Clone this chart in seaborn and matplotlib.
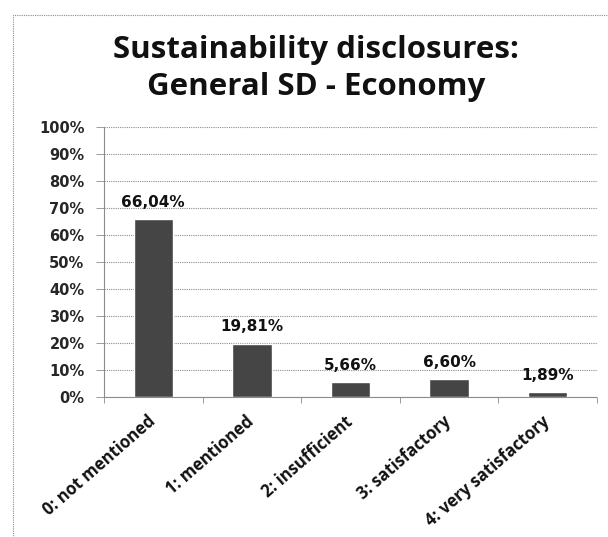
import matplotlib
matplotlib.use("Agg")
import matplotlib.pyplot as plt
from matplotlib.patches import Rectangle
import seaborn as sns
import pandas as pd

# Rating categories and share of companies in each (percent)
categories = ["0: not mentioned", "1: mentioned", "2: insufficient",
              "3: satisfactory", "4: very satisfactory"]
shares = [66.04, 19.81, 5.66, 6.60, 1.89]
value_labels = ["66,04%", "19,81%", "5,66%", "6,60%", "1,89%"]
y_ticks = [0, 10, 20, 30, 40, 50, 60, 70, 80, 90, 100]
y_tick_labels = [f"{t}%" for t in y_ticks]

title_lines = ["Sustainability disclosures:", "General SD - Economy"]

df = pd.DataFrame({"category": categories, "share": shares})

sns.set_theme(style="white")
plt.rcParams["font.family"] = ["DejaVu Sans"]

W, H = 608, 537
fig = plt.figure(figsize=(W / 100, H / 100), dpi=100)
fig.patch.set_facecolor("white")

ax = fig.add_axes([104 / W, 1 - 397 / H, (597 - 104) / W, (397 - 127) / H])

sns.barplot(data=df, x="category", y="share", color="#454545",
            saturation=1, width=0.40, ax=ax, zorder=3)

ax.set_ylim(0, 100)
ax.set_xlim(-0.5, len(categories) - 0.5)
ax.set_yticks(y_ticks)
ax.set_yticklabels(y_tick_labels, fontsize=10.5, fontweight="bold",
                   family="DejaVu Sans")
ax.set_xlabel("")
ax.set_ylabel("")

# dotted horizontal gridlines
grid_color = "#8c8c8c"
ax.yaxis.grid(True, color=grid_color, linestyle=(0, (1, 1)), linewidth=0.8, zorder=0)
ax.xaxis.grid(False)

for side in ["top", "right"]:
    ax.spines[side].set_visible(False)
for side in ["left", "bottom"]:
    ax.spines[side].set_color(grid_color)
    ax.spines[side].set_linestyle((0, (1, 1)))
    ax.spines[side].set_linewidth(0.8)

ax.tick_params(axis="y", direction="out", length=6, width=0.6,
               color=grid_color, pad=8, left=True)

# tick marks between categories on the x axis
ax.set_xticks(range(len(categories)))
ax.set_xticks([i - 0.5 for i in range(len(categories) + 1)], minor=True)
ax.tick_params(axis="x", which="major", length=0, pad=16)
ax.tick_params(axis="x", which="minor", direction="out", length=4,
               width=0.6, color=grid_color, bottom=True)
ax.set_xticklabels(categories, rotation=41, ha="right", va="center",
                   rotation_mode="anchor", fontsize=12, fontweight="bold",
                   family="Open Sans", color="#111111")

# value labels above the bars
for i, (v, lab) in enumerate(zip(shares, value_labels)):
    ax.annotate(lab, xy=(i, v), xytext=(0, 12), textcoords="offset points",
                ha="center", va="center", fontsize=11, fontweight="bold",
                family="DejaVu Sans", color="#111111")

# two-line chart title
fig.text(316 / W, 1 - 50 / H, title_lines[0], ha="center", va="center",
         fontsize=22.5, fontweight="bold", family="Open Sans", color="#111111")
fig.text(316 / W, 1 - 87 / H, title_lines[1], ha="center", va="center",
         fontsize=22.5, fontweight="bold", family="Open Sans", color="#111111")

# dotted chart-area frame
fig.patches.append(Rectangle((13 / W, -0.1), 1.2, 1 - 15 / H + 0.1,
                             transform=fig.transFigure, fill=False,
                             edgecolor="#8c8c8c", linewidth=0.8,
                             linestyle=(0, (1, 1)), zorder=0))

fig.savefig("out.png", dpi=100, facecolor="white")
